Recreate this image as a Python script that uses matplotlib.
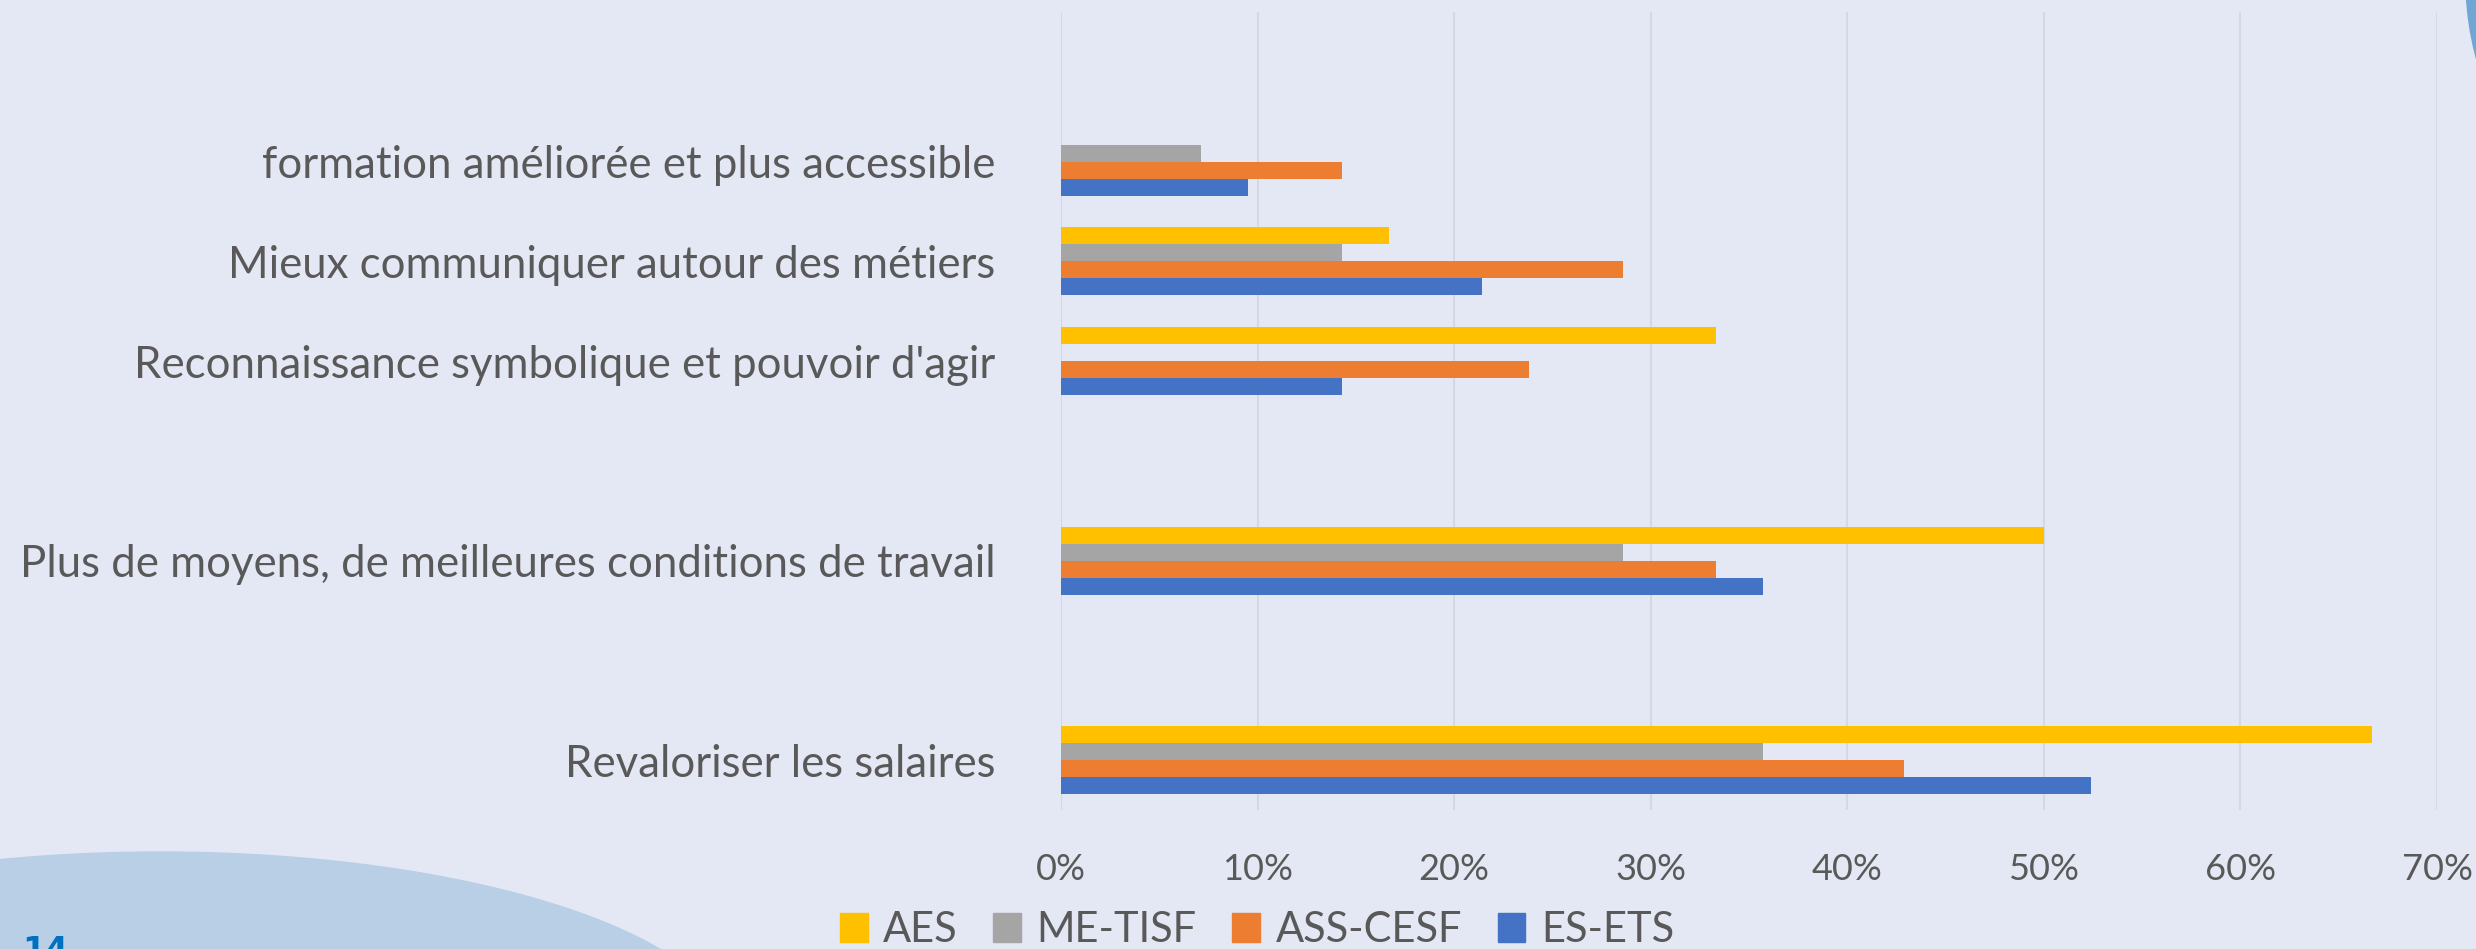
import matplotlib.pyplot as plt
import matplotlib.patches as mpatches
import numpy as np

# categories from bottom to top, '' = empty slot in the original chart
categories = ['Revaloriser les salaires', '',
              'Plus de moyens, de meilleures conditions de travail', '',
              "Reconnaissance symbolique et pouvoir d'agir",
              'Mieux communiquer autour des métiers',
              'formation améliorée et plus accessible', '']

series = ['AES', 'ME-TISF', 'ASS-CESF', 'ES-ETS']
aes = [0.667, 0, 0.500, 0, 0.333, 0.167, 0.0, 0]
me_tisf = [0.357, 0, 0.286, 0, 0.0, 0.143, 0.071, 0]
ass_cesf = [0.429, 0, 0.333, 0, 0.238, 0.286, 0.143, 0]
es_ets = [0.524, 0, 0.357, 0, 0.143, 0.214, 0.095, 0]
colors = ['#FFC000', '#A5A5A5', '#ED7D31', '#4472C4']
ticks = np.arange(0, 0.71, 0.1)

bg = '#E4E8F4'
txt = '#595959'
plt.rcParams['font.family'] = ['Lato', 'DejaVu Sans']

W, H = 2476, 949
fig = plt.figure(figsize=(W / 100, H / 100), dpi=100)
fig.patch.set_facecolor(bg)

# decoration shapes (slide background)
fig.patches.append(mpatches.Ellipse((160 / W, 1 - 1045 / H), 1152 / W, 386 / H,
                                    transform=fig.transFigure, color='#B8CFE6', zorder=0))
fig.patches.append(mpatches.Ellipse((2766 / W, 1 + 20 / H), 600 / W, 600 / H,
                                    transform=fig.transFigure, color='#70A6D6', zorder=0))

ax = fig.add_axes([1061 / W, 1 - 810 / H, (2437 - 1061) / W, (810 - 12) / H])
ax.set_facecolor('none')

y = np.arange(len(categories))
h = 0.17
vals = [aes, me_tisf, ass_cesf, es_ets]
for i, (name, v, c) in enumerate(zip(series, vals, colors)):
    ax.barh(y + (1.5 - i) * h, v, height=h, color=c, label=name, zorder=3)

ax.set_xlim(0, 0.7)
ax.set_ylim(-0.5, len(categories) - 0.5)
ax.set_xticks(ticks)
ax.set_xticklabels(['%d%%' % round(t * 100) for t in ticks], fontsize=26, color=txt)
ax.set_yticks(y)
ax.set_yticklabels(categories, fontsize=31.5, color=txt)
ax.tick_params(axis='both', length=0)
ax.tick_params(axis='y', pad=47)
ax.tick_params(axis='x', pad=31)
ax.grid(axis='x', color='#D5D8DE', linewidth=1.5, zorder=0)
for s in ax.spines.values():
    s.set_visible(False)

handles = [mpatches.Patch(color=c) for c in colors]
fig.legend(handles, series, loc='center', bbox_to_anchor=(1257 / W, 1 - 930 / H),
           ncol=4, frameon=False, fontsize=30, labelcolor=txt,
           handlelength=0.66, handleheight=0.7, handletextpad=0.38, columnspacing=0.85)

fig.text(22 / W, 1 - 935 / H, '14', fontsize=24, fontweight='bold', color='#0070C0',
         va='top', ha='left', family=['DejaVu Sans'])

fig.savefig('out.png', dpi=100, facecolor=bg)
